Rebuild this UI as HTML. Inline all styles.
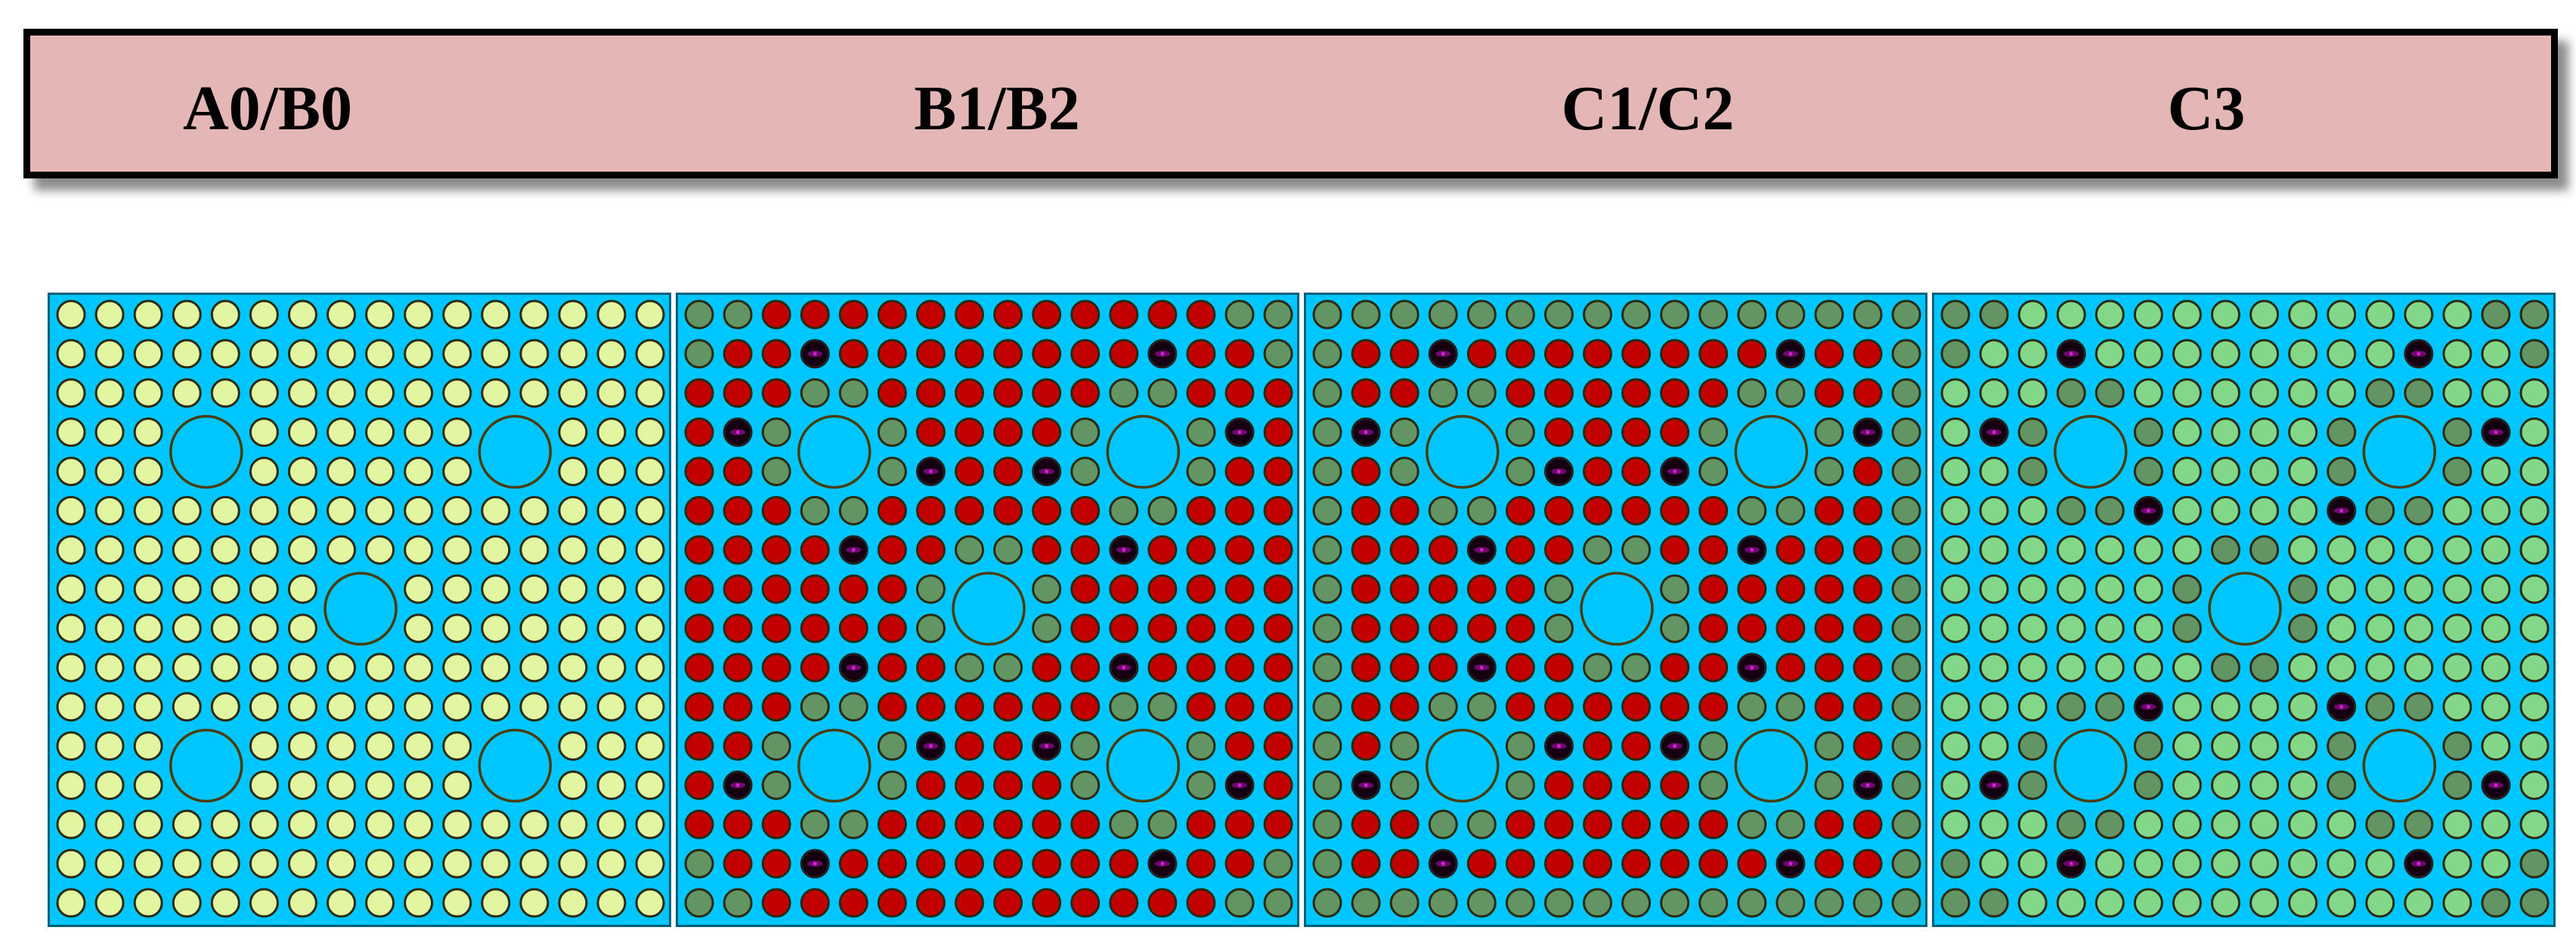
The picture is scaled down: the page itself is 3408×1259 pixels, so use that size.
<!DOCTYPE html>
<html><head><meta charset="utf-8"><style>
html,body{margin:0;padding:0;background:#fff;}
body{width:3408px;height:1259px;position:relative;overflow:hidden;}
#hdr{position:absolute;left:31px;top:38px;width:3335px;height:180px;background:#e4b6b6;border:9px solid #000;box-shadow:14px 16px 12px rgba(0,0,0,0.45);}
#ht{position:absolute;left:0;top:0;}
.panel{position:absolute;top:387px;width:825px;height:839px;}
</style></head><body>
<div id="hdr"></div>
<svg id="ht" width="3408" height="260" xmlns="http://www.w3.org/2000/svg">
<g font-family="Liberation Serif, serif" font-weight="bold" font-size="84" text-anchor="middle" fill="#000">
<text x="354" y="171">A0/B0</text>
<text x="1319" y="171">B1/B2</text>
<text x="2180" y="171">C1/C2</text>
<text x="2919" y="171">C3</text>
</g></svg>
<div id="panels"></div>
<script>
var C={Y:'#e2f5a0',G:'#639463',R:'#c20000',L:'#82d888'};
function sym(rows){var a=rows.slice();for(var i=rows.length-1;i>=0;i--)a.push(rows[i]);return a;}
var P1=[],Y='YYYYYYYYYYYYYYYY';
for(var i=0;i<16;i++)P1.push(Y);
P1[3]=P1[4]=P1[11]=P1[12]='YYYXXYYYYYYXXYYY';P1[7]=P1[8]='YYYYYYYXXYYYYYYY';
var P2=sym(['GGRRRRRRRRRRRRGG','GRRDRRRRRRRRDRRG','RRRGGRRRRRRGGRRR','RDGXXGRRRRGXXGDR','RRGXXGDRRDGXXGRR','RRRGGRRRRRRGGRRR','RRRRDRRGGRRDRRRR','RRRRRRGXXGRRRRRR']);
var P3=P2.map(function(r,j){if(j==0||j==15)return 'GGGGGGGGGGGGGGGG';return 'G'+r.slice(1,15)+'G';});
var P4=sym(['GGLLLLLLLLLLLLGG','GLLDLLLLLLLLDLLG','LLLGGLLLLLLGGLLL','LDGXXGLLLLGXXGDL','LLGXXGLLLLGXXGLL','LLLGGDLLLLDGGLLL','LLLLLLLGGLLLLLLL','LLLLLLGXXGLLLLLL']);
var maps=[P1,P2,P3,P4],lefts=[63,894,1725,2556];
var html='';
function cx(i){return 31+i*51.07;}function cy(j){return 29+j*51.87;}
for(var p=0;p<4;p++){
 var s='<svg class="panel" style="left:'+lefts[p]+'px" width="825" height="839" xmlns="http://www.w3.org/2000/svg"><rect x="1.5" y="1.5" width="822" height="836" fill="#00c6ff" stroke="#00607a" stroke-width="3"/>';
 var m=maps[p];
 for(var j=0;j<16;j++)for(var i=0;i<16;i++){var c=m[j][i];var x=cx(i),y=cy(j);
  if(c=='X')continue;
  if(c=='D'){s+='<circle cx="'+x+'" cy="'+y+'" r="18" fill="#140010" stroke="#222" stroke-width="3"/><ellipse cx="'+x+'" cy="'+y+'" rx="10" ry="4" fill="#6a0a6a"/><circle cx="'+x+'" cy="'+y+'" r="2.5" fill="#d020d0"/>';}
  else s+='<circle cx="'+x+'" cy="'+y+'" r="18" fill="'+C[c]+'" stroke="#2a2a12" stroke-width="3"/>';}
 var gt=[[3,3],[11,3],[7,7],[3,11],[11,11]];
 for(var k=0;k<5;k++){var x=(cx(gt[k][0])+cx(gt[k][0]+1))/2,y=(cy(gt[k][1])+cy(gt[k][1]+1))/2;
  s+='<circle cx="'+x+'" cy="'+y+'" r="47" fill="none" stroke="#4a3c08" stroke-width="3.5"/>';}
 s+='</svg>';html+=s;}
document.getElementById('panels').innerHTML=html;
</script>
</body></html>
